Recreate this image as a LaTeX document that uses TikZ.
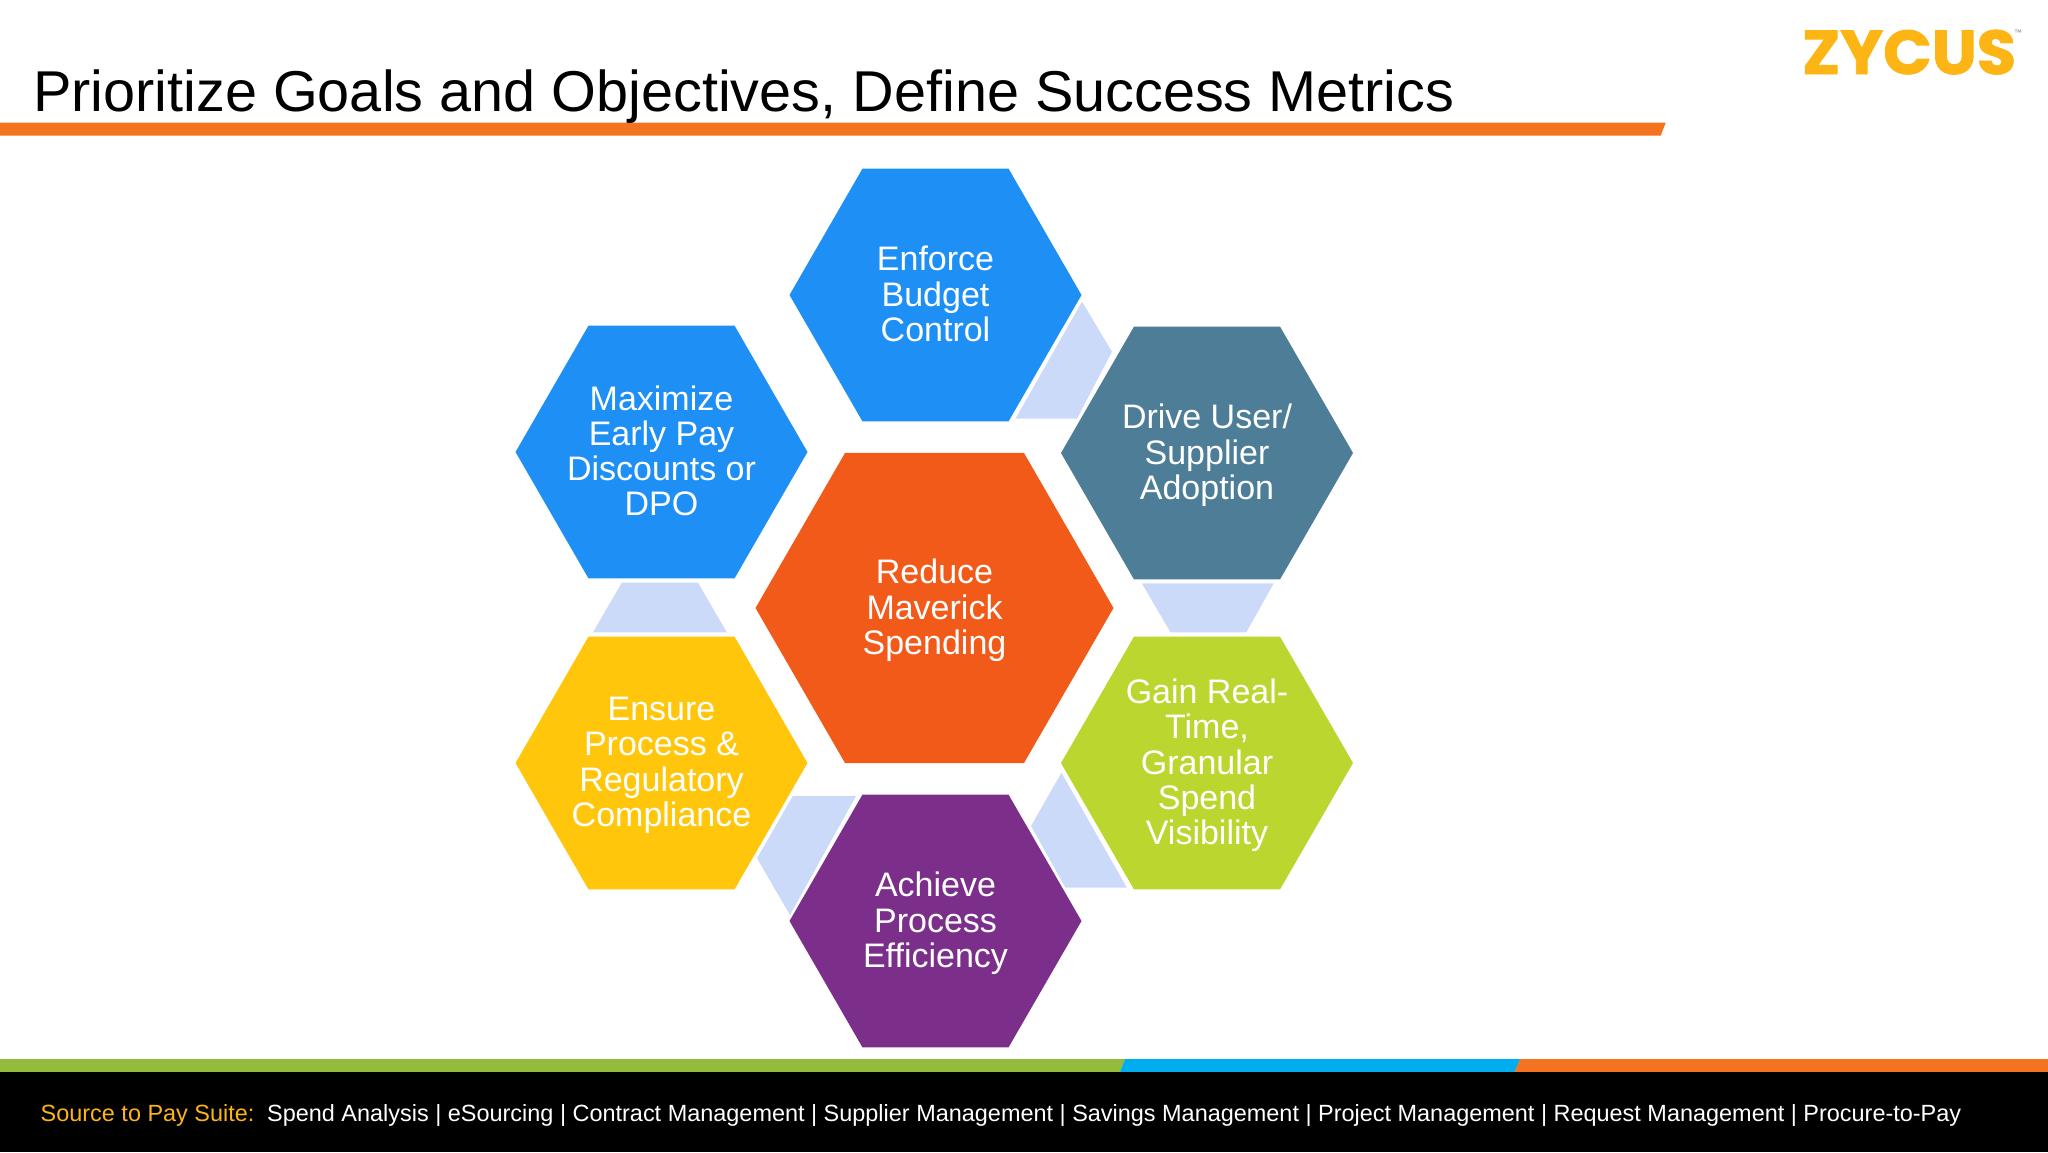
\documentclass[tikz,border=0pt]{standalone}
\usepackage{fontspec}
\setmainfont{Liberation Sans}
\newfontfamily\logofont{Poppins}[FakeStretch=1.03, FakeBold=1.5]
\usetikzlibrary{shapes.geometric}
\definecolor{barorange}{HTML}{F47321}
\definecolor{bargreen}{HTML}{95BB3C}
\definecolor{barblue}{HTML}{00AEEF}
\definecolor{cellblue}{HTML}{1E90F5}
\definecolor{cellteal}{HTML}{4E7E97}
\definecolor{cellred}{HTML}{F25A1A}
\definecolor{cellyellow}{HTML}{FFC60B}
\definecolor{celllime}{HTML}{BCD630}
\definecolor{cellpurple}{HTML}{7C2F8A}
\definecolor{linkfill}{HTML}{CCDAF9}
\definecolor{logogold}{HTML}{FDB515}
\tikzset{
    hexcell/.style={regular polygon, regular polygon sides=6, minimum size=292pt, inner sep=-30pt, outer sep=0pt,
        text=white, align=center, text depth=2.6pt, font=\fontsize{34}{35.3}\selectfont},
    hexbig/.style={hexcell, minimum size=358pt},
    linkband/.style={fill=linkfill},
    footertext/.style={anchor=base west, inner sep=0pt, font=\fontsize{23.45}{30}\selectfont}
}
\begin{document}
\begin{tikzpicture}[x=1pt, y=-1pt]
    \useasboundingbox (0,0) rectangle (2048,1152);
    %top rule and footer
    \fill[barorange] (0,122.7) -- (1665.7,122.7) -- (1660.7,135.7) -- (0,135.7) -- cycle;
    \fill[bargreen] (0,1059) -- (1125,1059) -- (1120,1072) -- (0,1072) -- cycle;
    \fill[barblue] (1125,1059) -- (1520.4,1059) -- (1514.5,1072) -- (1120,1072) -- cycle;
    \fill[barorange] (1520.4,1059) -- (2048,1059) -- (2048,1072) -- (1514.5,1072) -- cycle;
    \fill[black] (0,1072) rectangle (2048,1152);
    \node[anchor=base west, inner sep=0pt, font=\fontsize{57.6}{60}\selectfont] at (33,111) (Title){Prioritize Goals and Objectives, Define Success Metrics};
    \node[anchor=base west, inner sep=0pt, text=logogold, font=\logofont\bfseries\fontsize{62}{62}\selectfont] at (1802,74) (Logo){ZYCUS};
    \node[anchor=north west, inner sep=0pt, text=gray, font=\fontsize{8}{8}\selectfont] at (2014,30) (Mark){™};
    %hexagons
    \node[hexbig, fill=cellred] at (934.5,608) (Reduce){Reduce\\Maverick\\Spending};
    \node[hexcell, fill=cellblue] at (935.5,295) (Enforce){Enforce\\Budget\\Control};
    \node[hexcell, fill=cellteal] at (1207,453) (Drive){Drive User/\\Supplier\\Adoption};
    \node[hexcell, fill=celllime] at (1207,763) (Gain){Gain Real-\\Time,\\Granular\\Spend\\Visibility};
    \node[hexcell, fill=cellpurple] at (935.5,921) (Achieve){Achieve\\Process\\Efficiency};
    \node[hexcell, fill=cellyellow] at (661.5,763) (Ensure){Ensure\\Process \&\\Regulatory\\Compliance};
    \node[hexcell, fill=cellblue] at (661.5,452) (Maximize){Maximize\\Early Pay\\Discounts or\\DPO};
    %bands between the outer hexagons
    \fill[linkband] ([shift={(146.5,6.7)}]Enforce.center) -- ([shift={(176.5,56.7)}]Enforce.center) -- ([shift={(141.5,123.7)}]Enforce.center) -- ([shift={(80,123.7)}]Enforce.center) -- cycle;
    \fill[linkband] ([shift={(-65.2,130.3)}]Drive.center) -- ([shift={(66.8,130.3)}]Drive.center) -- ([shift={(39.3,179.3)}]Drive.center) -- ([shift={(-36.5,179.3)}]Drive.center) -- cycle;
    \fill[linkband] ([shift={(-145.6,9.7)}]Gain.center) -- ([shift={(-80.1,124.7)}]Gain.center) -- ([shift={(-141.6,124.7)}]Gain.center) -- ([shift={(-176,63)}]Gain.center) -- cycle;
    \fill[linkband] ([shift={(-79.5,-125)}]Achieve.center) -- ([shift={(-145.5,-6)}]Achieve.center) -- ([shift={(-178.5,-62.7)}]Achieve.center) -- ([shift={(-142.7,-125)}]Achieve.center) -- cycle;
    \fill[linkband] ([shift={(-68.5,-130.7)}]Ensure.center) -- ([shift={(65.3,-130.7)}]Ensure.center) -- ([shift={(36.5,-180.3)}]Ensure.center) -- ([shift={(-39.8,-180.3)}]Ensure.center) -- cycle;
    %footer line
    \node[footertext, text=logogold] at (40.5,1121) (Suite){Source to Pay Suite:};
    \node[footertext, text=white] at (267,1121) (Modules){Spend Analysis | eSourcing | Contract Management | Supplier Management | Savings Management | Project Management | Request Management | Procure-to-Pay};
\end{tikzpicture}
\end{document}
